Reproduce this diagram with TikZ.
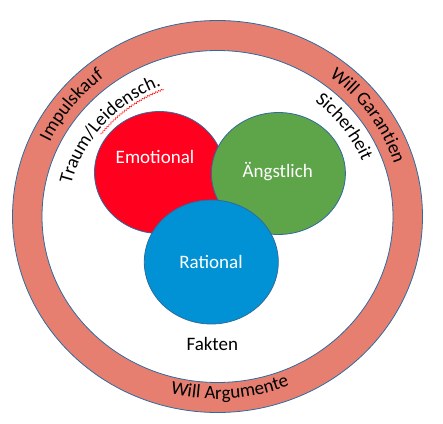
\documentclass[tikz,border=0pt]{standalone}
\usepackage{fontspec}
\setmainfont{Carlito}
\usetikzlibrary{shapes.geometric,decorations.text,decorations.pathmorphing}
\definecolor{ringc}{RGB}{231,127,112}
\definecolor{edgec}{RGB}{46,107,158}
\definecolor{emoc}{RGB}{255,0,30}
\definecolor{angc}{RGB}{94,164,72}
\definecolor{ratc}{RGB}{0,146,212}
\newcommand\rf{\fontsize{19}{22}\selectfont}
\begin{document}
\begin{tikzpicture}[x=1pt,y=1pt,
  blob/.style={ellipse, draw=edgec, line width=0.8pt, inner sep=0pt},
  lbl/.style={font=\rf, text=white, inner sep=0pt},
  arctext/.style={decorate, decoration={text along path, text align=center, text={|\rf|#1}}}]
\useasboundingbox (0,0) rectangle (443,423);
\coordinate (C) at (217.5,206.5);
% outer ring
\path[fill=ringc, draw=edgec, line width=0.8pt, even odd rule]
  (C) ellipse[x radius=205pt, y radius=196pt]
  (C) ellipse[x radius=175.5pt, y radius=166pt];
% circles
\node[blob, fill=emoc, minimum width=130pt, minimum height=122pt] (emo) at (159.5,250.5) {};
\node[blob, fill=angc, minimum width=134pt, minimum height=122pt] (ang) at (278.4,249.5) {};
\node[blob, fill=ratc, minimum width=134pt, minimum height=124pt] (rat) at (211.3,161) {};
% labels
\node[lbl] (emot) at (155,266) {Emotional};
\node[lbl] (angt) at (277.7,251.3) {Ängstlich};
\node[lbl] (ratt) at (211,161.3) {Rational};
\node[lbl, text=black] (fak) at (212.3,79.3) {Fakten};
% texts along the ring
\path[arctext={Impulskauf}, shift={(C)}]
  (187:185pt and 176pt) arc[start angle=187, end angle=97, x radius=185pt, y radius=176pt];
\path[arctext={Will Garantien}, shift={(C)}]
  (79.5:185pt and 176pt) arc[start angle=79.5, end angle=-10.5, x radius=185pt, y radius=176pt];
\path[arctext={Will Argumente}, shift={(C)}]
  (229:191.5pt and 182.5pt) arc[start angle=229, end angle=319, x radius=191.5pt, y radius=182.5pt];
% inner texts
\path[arctext={Traum/Leidensch.}, shift={(C)}]
  (185:150pt and 140.5pt) arc[start angle=185, end angle=95, x radius=150pt, y radius=140.5pt];
\path[arctext={Sicherheit}, shift={(C)}]
  (81:156pt and 147pt) arc[start angle=81, end angle=-9, x radius=156pt, y radius=147pt];
% spell-check wave
\draw[red, line width=0.5pt, decorate, decoration={snake, amplitude=0.8pt, segment length=3pt}, shift={(C)}]
  (143:146pt and 136.5pt) arc[start angle=143, end angle=111.5, x radius=146pt, y radius=136.5pt];
\end{tikzpicture}
\end{document}
